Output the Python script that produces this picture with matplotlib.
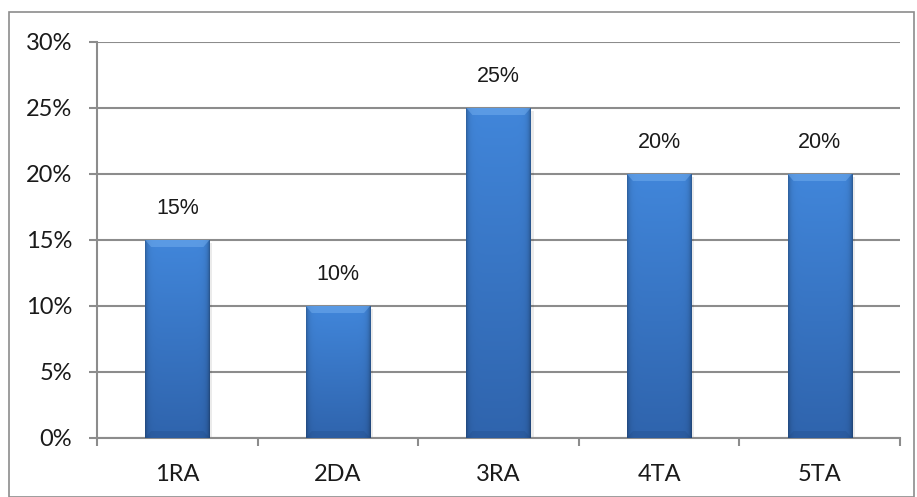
"""Bar chart of category shares with Excel-style bevelled bars."""

import matplotlib

matplotlib.use("Agg")
import matplotlib.pyplot as plt
import numpy as np
from matplotlib.colors import to_rgb
from matplotlib.patches import Polygon, Rectangle
from matplotlib.ticker import FixedLocator, PercentFormatter

categories = ["1RA", "2DA", "3RA", "4TA", "5TA"]
shares = [0.15, 0.10, 0.25, 0.20, 0.20]
value_labels = ["15%", "10%", "25%", "20%", "20%"]
y_ticks = [0.0, 0.05, 0.10, 0.15, 0.20, 0.25, 0.30]

W, H = 917, 497
GRID = "#8c8c8c"
BAR_WIDTH = 0.4
TOP_COLOR = np.array(to_rgb("#4186da"))
BOTTOM_COLOR = np.array(to_rgb("#2f64ad"))


def bar_face(n_rows=200, n_cols=64):
    """RGB fill for one bar: darker towards the base, shaded near the sides."""
    t = np.linspace(0, 1, n_rows)[:, None, None]  # 0 = top, 1 = base
    col = TOP_COLOR * (1 - t) + BOTTOM_COLOR * t
    u = np.linspace(0, 1, n_cols)
    edge = np.minimum(u, 1 - u) * n_cols  # distance to nearest side in px
    shade = 1 - 0.25 * np.exp(-edge / 2.5)
    shade = np.where(u > 0.5, shade - 0.05 * np.exp(-edge / 2.5), shade)
    return np.clip(np.repeat(col, n_cols, axis=1) * shade[None, :, None], 0, 1)


fig = plt.figure(figsize=(W / 100, H / 100), dpi=100)
fig.patch.set_facecolor("white")
fig.patches.append(
    Rectangle((9 / W, 0), 905 / W, 485 / H, transform=fig.transFigure,
              fill=False, edgecolor="#8c8c8c", linewidth=1.2)
)

ax = fig.add_axes([97 / W, (H - 438) / H, (900 - 97) / W, (438 - 42) / H])
ax.set_xlim(-0.5, len(categories) - 0.5)
ax.set_ylim(0, 0.30)

for spine in ("top", "right"):
    ax.spines[spine].set_visible(False)
for spine in ("left", "bottom"):
    ax.spines[spine].set_color(GRID)
    ax.spines[spine].set_linewidth(1.5)

ax.yaxis.set_major_locator(FixedLocator(y_ticks))
ax.yaxis.set_major_formatter(PercentFormatter(1.0, decimals=0))
ax.yaxis.grid(True, color=GRID, linewidth=1.5)
ax.set_axisbelow(True)

x = np.arange(len(categories))
ax.set_xticks(x)
ax.set_xticklabels(categories)
ax.set_xticks(np.arange(len(categories) + 1) - 0.5, minor=True)
ax.tick_params(axis="x", which="major", length=0, pad=19)
ax.tick_params(axis="x", which="minor", length=6, width=1.5, color=GRID)
ax.tick_params(axis="y", length=6, width=1.5, color=GRID, pad=12)
for lab in ax.get_xticklabels() + ax.get_yticklabels():
    lab.set_fontfamily("Lato")
    lab.set_fontsize(17)
    lab.set_color("#1a1a1a")

bars = ax.bar(x, shares, width=BAR_WIDTH, color="none", zorder=3)

px_x = len(categories) / (900 - 97)
px_y = 0.30 / (438 - 42)
face = bar_face()
for bar, label in zip(bars, value_labels):
    x0, w, h = bar.get_x(), bar.get_width(), bar.get_height()
    x1 = x0 + w

    # soft drop shadow on the right
    ax.add_patch(Rectangle((x0 + 3 * px_x, 0), w, h - 3 * px_y,
                           facecolor="#000000", alpha=0.08, linewidth=0, zorder=2.5))

    img = ax.imshow(face, aspect="auto", extent=(x0, x1, 0, h),
                    zorder=3, interpolation="bilinear")
    img.set_clip_path(bar)

    # bevelled top edge and slightly darker base
    bx, by = 6 * px_x, 7 * px_y
    ax.add_patch(Polygon([(x0, h), (x1, h), (x1 - bx, h - by), (x0 + bx, h - by)],
                         facecolor="#7ab4f2", alpha=0.45, linewidth=0, zorder=3.2))
    ax.add_patch(Polygon([(x0, 0), (x0 + bx, by), (x1 - bx, by), (x1, 0)],
                         facecolor="#1a3f72", alpha=0.2, linewidth=0, zorder=3.2))

    ax.text(x0 + w / 2, h + 31 * px_y, label, ha="center", va="center",
            fontsize=15.5, fontfamily="Liberation Sans", color="#1a1a1a", zorder=4)

fig.savefig("out.png", dpi=100)
